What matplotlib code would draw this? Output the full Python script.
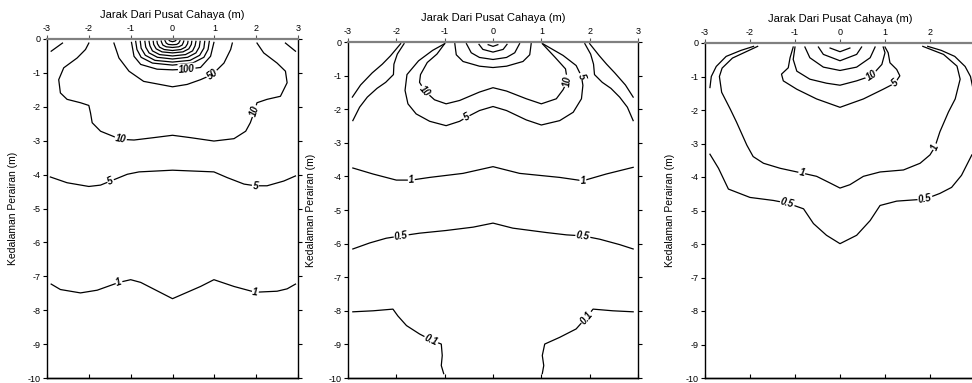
import numpy as np
import matplotlib
matplotlib.use("Agg")
import matplotlib.pyplot as plt

plt.rcParams['font.family'] = ['Liberation Sans', 'DejaVu Sans']
plt.rcParams['axes.unicode_minus'] = False

x_ticks = [-3, -2, -1, 0, 1, 2, 3]
y_ticks = [0, -1, -2, -3, -4, -5, -6, -7, -8, -9, -10]
x_title = "Jarak Dari Pusat Cahaya (m)"
y_title = "Kedalaman Perairan (m)"

# ---------------- Panel 1 contours (x = distance, d = depth) ----------------
p1_cl_x = [-2.9, -2.63]
p1_cl_d = [-0.36, -0.12]
p1_cr_x = [2.7, 2.94]
p1_cr_d = [-0.12, -0.36]
p1_10_x = [-2.0, -2.08, -2.28, -2.6, -2.72, -2.68, -2.52, -2.2, -2.0, -1.96, -1.92, -1.72, -1.4, -1.24, -0.92,
           -0.45, 0.0, 0.43, 0.99, 1.47, 1.75, 1.86, 1.96, 2.02, 2.26, 2.58, 2.74, 2.7, 2.5, 2.18, 2.02]
p1_10_d = [-0.12, -0.31, -0.56, -0.85, -1.2, -1.59, -1.78, -1.88, -1.96, -2.18, -2.47, -2.72, -2.88, -2.96, -2.98,
           -2.91, -2.84, -2.91, -3.01, -2.94, -2.72, -2.47, -2.13, -1.88, -1.78, -1.69, -1.29, -0.95, -0.71, -0.41, -0.12]
p1_50_x = [-1.4, -1.28, -1.04, -0.69, 0.0, 0.35, 0.67, 0.95, 1.23, 1.39, 1.43]
p1_50_d = [-0.12, -0.56, -0.95, -1.25, -1.41, -1.34, -1.2, -1.05, -0.71, -0.31, -0.12]
p1_100_x = [-0.98, -0.92, -0.76, -0.37, 0.0, 0.34, 0.67, 0.91, 0.99]
p1_100_d = [-0.1, -0.51, -0.75, -0.89, -0.91, -0.89, -0.84, -0.51, -0.1]
p1_a1_x = [-0.88, -0.85, -0.75, -0.48, 0.0, 0.48, 0.75, 0.85, 0.88]
p1_a1_d = [-0.07, -0.31, -0.54, -0.71, -0.77, -0.71, -0.54, -0.31, -0.07]
p1_a2_x = [-0.77, -0.75, -0.65, -0.42, 0.0, 0.42, 0.65, 0.75, 0.77]
p1_a2_d = [-0.07, -0.27, -0.48, -0.63, -0.68, -0.63, -0.48, -0.27, -0.07]
p1_a3_x = [-0.66, -0.64, -0.56, -0.36, 0.0, 0.36, 0.56, 0.64, 0.66]
p1_a3_d = [-0.07, -0.24, -0.41, -0.54, -0.59, -0.54, -0.41, -0.24, -0.07]
p1_a4_x = [-0.56, -0.54, -0.48, -0.31, 0.0, 0.31, 0.48, 0.54, 0.56]
p1_a4_d = [-0.07, -0.2, -0.35, -0.46, -0.5, -0.46, -0.35, -0.2, -0.07]
p1_a5_x = [-0.46, -0.45, -0.39, -0.25, 0.0, 0.25, 0.39, 0.45, 0.46]
p1_a5_d = [-0.07, -0.16, -0.29, -0.38, -0.41, -0.38, -0.29, -0.16, -0.07]
p1_a6_x = [-0.37, -0.36, -0.31, -0.2, 0.0, 0.2, 0.31, 0.36, 0.37]
p1_a6_d = [-0.07, -0.14, -0.24, -0.31, -0.34, -0.31, -0.24, -0.14, -0.07]
p1_a7_x = [-0.27, -0.26, -0.23, -0.15, 0.0, 0.15, 0.23, 0.26, 0.27]
p1_a7_d = [-0.06, -0.1, -0.18, -0.23, -0.25, -0.23, -0.18, -0.1, -0.06]
p1_a8_x = [-0.18, -0.17, -0.15, -0.1, 0.0, 0.1, 0.15, 0.17, 0.18]
p1_a8_d = [-0.05, -0.07, -0.12, -0.16, -0.17, -0.16, -0.12, -0.07, -0.05]
p1_a9_x = [-0.08, -0.06, 0.0, 0.06, 0.08]
p1_a9_d = [-0.04, -0.06, -0.08, -0.06, -0.04]
p1_5_x = [-2.92, -2.52, -2.0, -1.72, -1.48, -1.08, -0.8, 0.0, 0.99, 1.31, 1.71, 1.98, 2.26, 2.66, 2.94]
p1_5_d = [-4.07, -4.24, -4.35, -4.31, -4.19, -3.99, -3.92, -3.87, -3.92, -4.09, -4.28, -4.33, -4.33, -4.19, -4.04]
p1_1_x = [-2.9, -2.68, -2.2, -1.8, -1.28, -1.0, -0.76, 0.0, 0.67, 0.99, 1.47, 1.98, 2.5, 2.74, 2.94]
p1_1_d = [-7.23, -7.39, -7.49, -7.41, -7.18, -7.1, -7.18, -7.66, -7.3, -7.1, -7.3, -7.47, -7.44, -7.37, -7.23]

# ---------------- Panel 2 contours ----------------
p2_al_x = [-1.91, -2.12, -2.29, -2.5, -2.74, -2.91]
p2_al_d = [-0.05, -0.41, -0.66, -0.92, -1.28, -1.64]
p2_bl_x = [-1.84, -1.98, -2.05, -2.06, -2.22, -2.4, -2.6, -2.76, -2.9]
p2_bl_d = [-0.05, -0.36, -0.66, -0.97, -1.2, -1.38, -1.64, -1.94, -2.34]
p2_ar_x = [2.0, 2.2, 2.35, 2.52, 2.74, 2.9]
p2_ar_d = [-0.05, -0.41, -0.66, -0.92, -1.28, -1.64]
p2_br_x = [1.9, 2.02, 2.08, 2.1, 2.26, 2.44, 2.62, 2.78, 2.9]
p2_br_d = [-0.05, -0.36, -0.66, -0.97, -1.2, -1.38, -1.64, -1.94, -2.34]
p2_10_x = [-1.0, -1.16, -1.36, -1.5, -1.52, -1.41, -1.21, -0.97, -0.69, -0.28, 0.0, 0.28, 0.69, 1.0, 1.31, 1.45,
           1.54, 1.5, 1.28, 1.02]
p2_10_d = [-0.05, -0.36, -0.61, -0.97, -1.2, -1.46, -1.72, -1.84, -1.74, -1.49, -1.36, -1.46, -1.69, -1.84, -1.69,
           -1.42, -1.16, -0.8, -0.45, -0.05]
p2_5_x = [-1.0, -1.25, -1.54, -1.78, -1.82, -1.76, -1.59, -1.31, -0.97, -0.69, -0.55, -0.28, 0.0, 0.28, 0.69, 1.0,
          1.38, 1.66, 1.83, 1.86, 1.83, 1.72, 1.45, 1.04]
p2_5_d = [-0.05, -0.25, -0.56, -0.97, -1.44, -1.84, -2.14, -2.36, -2.49, -2.36, -2.24, -2.04, -1.92, -2.04, -2.32,
          -2.47, -2.34, -2.09, -1.69, -1.29, -1.02, -0.7, -0.4, -0.06]
p2_u1_x = [-0.79, -0.76, -0.62, -0.28, 0.0, 0.28, 0.62, 0.76, 0.79]
p2_u1_d = [-0.05, -0.38, -0.58, -0.72, -0.76, -0.72, -0.58, -0.38, -0.05]
p2_u2_x = [-0.55, -0.45, -0.28, 0.0, 0.28, 0.45, 0.55]
p2_u2_d = [-0.05, -0.32, -0.46, -0.52, -0.46, -0.32, -0.05]
p2_u3_x = [-0.29, -0.21, 0.0, 0.21, 0.29]
p2_u3_d = [-0.07, -0.22, -0.3, -0.22, -0.07]
p2_u4_x = [-0.1, 0.0, 0.1]
p2_u4_d = [-0.08, -0.13, -0.08]
p2_1_x = [-2.9, -2.48, -2.0, -1.69, -1.31, -0.62, 0.0, 0.55, 1.38, 1.86, 2.34, 2.9]
p2_1_d = [-3.75, -3.93, -4.11, -4.11, -4.03, -3.91, -3.71, -3.91, -4.03, -4.13, -3.93, -3.73]
p2_05_x = [-2.9, -2.55, -2.21, -1.9, -1.52, -0.97, -0.41, 0.0, 0.41, 1.1, 1.52, 1.86, 2.21, 2.62, 2.9]
p2_05_d = [-6.16, -5.98, -5.84, -5.77, -5.69, -5.61, -5.51, -5.39, -5.54, -5.67, -5.74, -5.77, -5.87, -6.03, -6.16]
p2_01l_x = [-2.9, -2.48, -2.07, -1.97, -1.79, -1.52, -1.28, -1.07, -1.05, -1.07, -1.02]
p2_01l_d = [-8.03, -8.0, -7.95, -8.15, -8.44, -8.69, -8.87, -8.99, -9.33, -9.63, -9.87]
p2_01r_x = [2.9, 2.48, 2.07, 1.93, 1.72, 1.38, 1.07, 1.02, 1.05, 1.02]
p2_01r_d = [-8.03, -8.0, -7.95, -8.2, -8.54, -8.79, -8.99, -9.33, -9.63, -9.87]

# ---------------- Panel 3 contours ----------------
p3_al_x = [-1.92, -2.2, -2.53, -2.75, -2.86, -2.89]
p3_al_d = [-0.1, -0.22, -0.4, -0.7, -1.0, -1.33]
p3_ar_x = [1.95, 2.25, 2.55, 2.78, 2.9, 2.95]
p3_ar_d = [-0.1, -0.22, -0.4, -0.7, -1.0, -1.33]
p3_1_x = [-1.83, -2.39, -2.62, -2.68, -2.63, -2.44, -2.3, -2.07, -1.93, -1.7, -1.33, -0.85, -0.52, -0.22, 0.0,
          0.22, 0.52, 0.89, 1.41, 1.78, 2.0, 2.11, 2.22, 2.41, 2.56, 2.67, 2.6, 2.3, 1.84]
p3_1_d = [-0.1, -0.45, -0.75, -1.0, -1.47, -1.97, -2.36, -3.05, -3.39, -3.59, -3.74, -3.88, -3.98, -4.18, -4.33,
          -4.23, -3.98, -3.85, -3.79, -3.59, -3.34, -3.1, -2.65, -2.06, -1.67, -1.08, -0.69, -0.34, -0.1]
p3_05_x = [-2.89, -2.7, -2.48, -2.0, -1.48, -1.17, -0.81, -0.59, -0.3, 0.0, 0.37, 0.67, 0.89, 1.26, 1.89, 2.22,
           2.48, 2.7, 2.93]
p3_05_d = [-3.32, -3.74, -4.36, -4.61, -4.7, -4.78, -4.95, -5.39, -5.74, -5.99, -5.74, -5.3, -4.85, -4.72, -4.66,
           -4.49, -4.31, -3.95, -3.34]
p3_5_x = [-1.04, -1.11, -1.15, -1.3, -1.26, -0.96, -0.52, 0.0, 0.52, 0.96, 1.22, 1.33, 1.26, 1.11, 1.07, 1.0]
p3_5_d = [-0.12, -0.44, -0.74, -0.93, -1.13, -1.38, -1.67, -1.92, -1.67, -1.38, -1.2, -0.98, -0.79, -0.59, -0.29,
          -0.12]
p3_10_x = [-1.0, -1.04, -0.96, -0.67, -0.3, 0.0, 0.37, 0.7, 0.93, 1.0, 0.96]
p3_10_d = [-0.12, -0.49, -0.84, -1.08, -1.2, -1.26, -1.13, -0.98, -0.64, -0.29, -0.12]
p3_u1_x = [-0.78, -0.67, -0.37, 0.0, 0.37, 0.67, 0.78]
p3_u1_d = [-0.12, -0.44, -0.72, -0.82, -0.72, -0.44, -0.12]
p3_u2_x = [-0.48, -0.37, 0.0, 0.37, 0.48]
p3_u2_d = [-0.12, -0.34, -0.53, -0.34, -0.12]
p3_u3_x = [-0.22, 0.0, 0.22]
p3_u3_d = [-0.15, -0.26, -0.15]

# (x, d, label text, label vertex indices)
panel1 = [
    (p1_cl_x, p1_cl_d, None, []), (p1_cr_x, p1_cr_d, None, []),
    (p1_10_x, p1_10_d, "10", [13, 22]), (p1_50_x, p1_50_d, "50", [7]),
    (p1_100_x, p1_100_d, "100", [5]),
    (p1_a1_x, p1_a1_d, None, []), (p1_a2_x, p1_a2_d, None, []), (p1_a3_x, p1_a3_d, None, []),
    (p1_a4_x, p1_a4_d, None, []), (p1_a5_x, p1_a5_d, None, []), (p1_a6_x, p1_a6_d, None, []),
    (p1_a7_x, p1_a7_d, None, []), (p1_a8_x, p1_a8_d, None, []), (p1_a9_x, p1_a9_d, None, []),
    (p1_5_x, p1_5_d, "5", [4, 11]), (p1_1_x, p1_1_d, "1", [4, 11]),
]
panel2 = [
    (p2_al_x, p2_al_d, None, []), (p2_bl_x, p2_bl_d, None, []),
    (p2_ar_x, p2_ar_d, None, []), (p2_br_x, p2_br_d, None, []),
    (p2_10_x, p2_10_d, "10", [5, 16]), (p2_5_x, p2_5_d, "5", [10, 20]),
    (p2_u1_x, p2_u1_d, None, []), (p2_u2_x, p2_u2_d, None, []),
    (p2_u3_x, p2_u3_d, None, []), (p2_u4_x, p2_u4_d, None, []),
    (p2_1_x, p2_1_d, "1", [3, 9]), (p2_05_x, p2_05_d, "0.5", [3, 11]),
    (p2_01l_x, p2_01l_d, "0.1", [6]), (p2_01r_x, p2_01r_d, "0.1", [3]),
]
panel3 = [
    (p3_al_x, p3_al_d, None, []), (p3_ar_x, p3_ar_d, None, []),
    (p3_1_x, p3_1_d, "1", [11, 21]), (p3_05_x, p3_05_d, "0.5", [5, 14]),
    (p3_5_x, p3_5_d, "5", [10]), (p3_10_x, p3_10_d, "10", [7]),
    (p3_u1_x, p3_u1_d, None, []), (p3_u2_x, p3_u2_d, None, []), (p3_u3_x, p3_u3_d, None, []),
]

W, H = 972, 383
fig = plt.figure(figsize=(W / 100, H / 100), dpi=100)


def px_rect(x0, x1, y0, y1):
    return [x0 / W, 1 - y1 / H, (x1 - x0) / W, (y1 - y0) / H]


def style_axes(ax, ylabelpad, show_last_xlabel=True):
    ax.set_xlim(-3, 3)
    ax.set_ylim(-10, 0)
    ax.set_xticks(x_ticks)
    ax.set_yticks(y_ticks)
    xl = [str(t) for t in x_ticks]
    if not show_last_xlabel:
        xl[-1] = ""
    ax.set_xticklabels(xl)
    ax.set_yticklabels([str(t) for t in y_ticks])
    ax.xaxis.set_label_position('top')
    ax.tick_params(axis='x', direction='out', top=True, bottom=False, labeltop=True,
                   labelbottom=False, length=3, width=0.8, labelsize=6.5, pad=1.5, color='#555555')
    ax.tick_params(axis='y', direction='out', left=True, right=True, labelleft=True,
                   labelright=False, length=3, width=0.8, labelsize=6.5, pad=1.5)
    ax.set_xlabel(x_title, fontsize=8, labelpad=4)
    ax.set_ylabel(y_title, fontsize=7.5, labelpad=ylabelpad)
    for s in ('left', 'right', 'bottom'):
        ax.spines[s].set_linewidth(1.0)
        ax.spines[s].set_color('black')
    ax.spines['top'].set_color('#808080')
    ax.spines['top'].set_linewidth(1.6)
    sec = ax.secondary_xaxis('bottom')
    sec.set_xticks(x_ticks)
    sec.tick_params(direction='in', length=3, width=0.8, labelbottom=False)
    sec.spines['bottom'].set_linewidth(1.0)


def draw_panel(ax, contours):
    for xs, ds, lab, idxs in contours:
        ax.plot(xs, ds, color='black', lw=0.9, solid_joinstyle='round', zorder=2, clip_on=False)
        if lab is None:
            continue
        pts = ax.transData.transform(np.column_stack([xs, ds]))
        for i in idxs:
            j0, j1 = max(i - 1, 0), min(i + 1, len(xs) - 1)
            dx, dy = pts[j1] - pts[j0]
            ang = np.degrees(np.arctan2(dy, dx))
            if ang > 90:
                ang -= 180
            if ang < -90:
                ang += 180
            ax.text(xs[i], ds[i], lab, rotation=ang, rotation_mode='anchor', ha='center', va='center',
                    fontsize=7, fontweight='bold', fontstyle='italic', zorder=3,
                    bbox=dict(boxstyle='square,pad=0.08', fc='white', ec='none'))


ax1 = fig.add_axes(px_rect(47, 298, 39, 378))
ax2 = fig.add_axes(px_rect(348, 638, 42, 378))
ax3 = fig.add_axes(px_rect(705, 975, 43, 378))
for ax, cont, lp, last in ((ax1, panel1, 7, True), (ax2, panel2, 9, True), (ax3, panel3, 8, False)):
    style_axes(ax, lp, last)
    draw_panel(ax, cont)

fig.savefig("out.png", dpi=100)
